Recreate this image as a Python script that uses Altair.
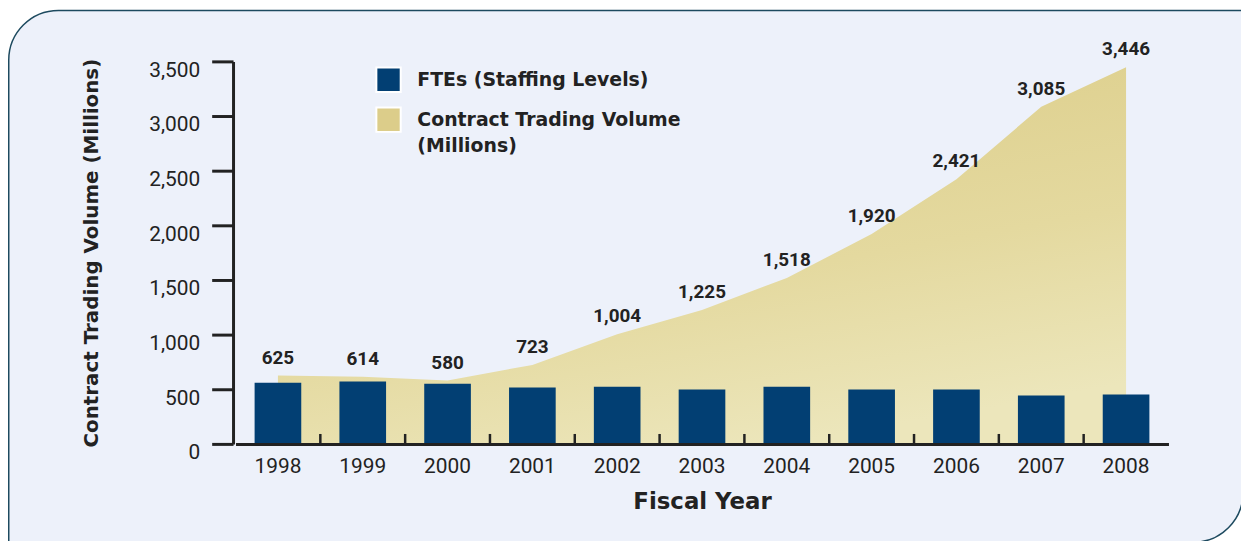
import altair as alt
import pandas as pd

# ---------------- data ----------------
years = ["1998", "1999", "2000", "2001", "2002", "2003", "2004", "2005", "2006", "2007", "2008"]
trading_volume = [625, 614, 580, 723, 1004, 1225, 1518, 1920, 2421, 3085, 3446]
ftes = [560, 572, 551, 515, 524, 497, 524, 497, 497, 442, 451]
y_ticks = [0, 500, 1000, 1500, 2000, 2500, 3000, 3500]
series_names = ["FTEs (Staffing Levels)", "Contract Trading Volume\n(Millions)"]
x_title = "Fiscal Year"
y_title = "Contract Trading Volume (Millions)"

df = pd.DataFrame({"year": years, "volume": trading_volume, "fte": ftes})

# ---------------- style ----------------
W, H = 939, 385
NAVY = "#023F73"
INK = "#222222"
PANEL = "#EDF1FA"
BORDER = "#1D4A5F"

x_scale = alt.Scale(paddingInner=0, paddingOuter=0)
y_scale = alt.Scale(domain=[0, 3500])

x_axis = alt.Axis(
    labelAngle=0, ticks=False, tickSize=0, domainWidth=3, domainColor=INK,
    labelFont="Roboto", labelFontSize=21, labelColor=INK,
    labelPadding=12, titleFont="DejaVu Sans", titleFontWeight="bold",
    titleFontSize=23, titleColor=INK, titleY=47, titleBaseline="top",
    zindex=2,
)
y_axis = alt.Axis(
    values=y_ticks, labelExpr="format(datum.value, ',')", grid=False, offset=2.5,
    tickSize=21.5, tickWidth=3, tickColor=INK, domainWidth=3, domainColor=INK,
    labelFont="Roboto", labelFontSize=21, labelColor=INK, labelPadding=12,
    labelBaseline="top", labelOffset=-2,
    titleFont="DejaVu Sans", titleFontWeight="bold", titleFontSize=20,
    titleColor=INK, titleX=-136.5, titleY=H / 2, titleBaseline="alphabetic",
    zindex=2,
)

X = alt.X("year:N", scale=x_scale, axis=x_axis, title=x_title)

one = alt.Data(values=[{"k": 1}])

panel = alt.Chart(one).mark_rect(
    fill=PANEL, stroke=BORDER, strokeWidth=1.5,
    cornerRadiusTopLeft=50, cornerRadiusBottomRight=50,
).encode(
    x=alt.value(-228.25), x2=alt.value(1014), y=alt.value(-51.25), y2=alt.value(484)
)

gradient = alt.LinearGradient(
    gradient="linear",
    stops=[alt.GradientStop(color="#DBCC87", offset=0),
           alt.GradientStop(color="#E4D99F", offset=0.6),
           alt.GradientStop(color="#ECE6BB", offset=1)],
    x1=0.2, x2=0.6, y1=0, y2=1,
)

base = alt.Chart(df)

area = base.mark_area(color=gradient, opacity=1).encode(
    x=X, y=alt.Y("volume:Q", scale=y_scale, axis=y_axis, title=y_title)
)

bars = base.mark_bar(color=NAVY, width=alt.RelativeBandSize(0.55)).encode(
    x=X, y=alt.Y("fte:Q", scale=y_scale, axis=y_axis, title=y_title)
)

xticks = base.transform_filter(alt.datum.year != years[0]).mark_rule(
    color=INK, strokeWidth=2.5
).encode(
    x=alt.X("year:N", scale=x_scale, axis=x_axis, title=x_title, bandPosition=0),
    y=alt.value(H - 10), y2=alt.value(H),
)

labels = base.mark_text(
    dy=-12, baseline="alphabetic", font="Roboto", fontWeight="bold",
    fontSize=19, color=INK,
).encode(
    x=X, y=alt.Y("volume:Q", scale=y_scale, axis=y_axis, title=y_title),
    text=alt.Text("volume:Q", format=","),
)

leg_sq1 = alt.Chart(alt.Data(values=[{"label": series_names[0]}])).mark_square(
    size=600, fill=NAVY, stroke="white", strokeWidth=2, opacity=1
).encode(x=alt.value(154), y=alt.value(18.5))
leg_sq2 = alt.Chart(alt.Data(values=[{"label": series_names[1]}])).mark_square(
    size=600, fill="#DCCD8A", stroke="white", strokeWidth=2, opacity=1
).encode(x=alt.value(154), y=alt.value(58.7))

leg_style = dict(align="left", baseline="alphabetic", lineBreak="\n", lineHeight=26,
                 font="DejaVu Sans", fontWeight="bold", fontSize=19, color=INK)
leg_t1 = alt.Chart(alt.Data(values=[{"label": series_names[0]}])).mark_text(**leg_style).encode(
    x=alt.value(183), y=alt.value(24.7), text="label:N")
leg_t2 = alt.Chart(alt.Data(values=[{"label": series_names[1]}])).mark_text(**leg_style).encode(
    x=alt.value(183), y=alt.value(65.4), text="label:N")

chart = alt.layer(
    panel, area, bars, xticks, labels, leg_sq1, leg_sq2, leg_t1, leg_t2
).properties(
    width=W, height=H,
    padding={"left": 229, "top": 52, "right": 73, "bottom": 96},
    autosize=alt.AutoSizeParams(type="none"),
    background="white",
).configure_view(stroke=None)

chart.save("out.html", embed_options={"renderer": "svg", "actions": False})
